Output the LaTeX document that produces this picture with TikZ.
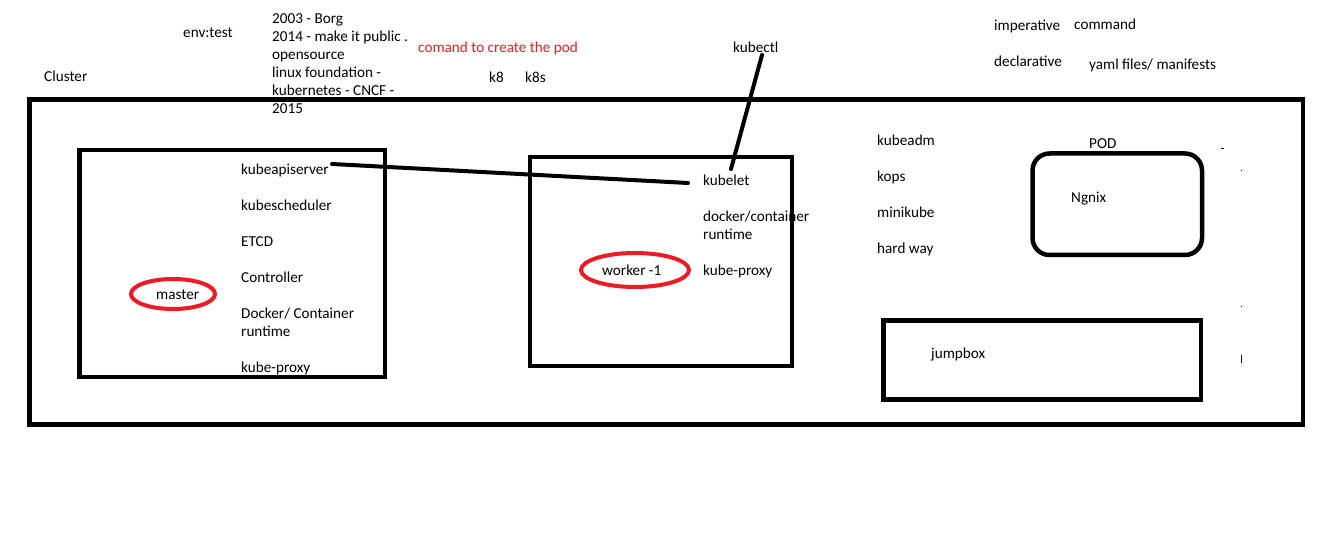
\documentclass[tikz,border=0pt]{standalone}
\usepackage{fontspec}
\setmainfont{Carlito}
\definecolor{paintred}{RGB}{237,28,36}
\begin{document}
\begin{tikzpicture}[x=1pt,y=-1pt,
  lbl/.style={anchor=base west,inner sep=0pt,font=\fontsize{15.2}{18}\selectfont,text=black,align=left},
  box/.style={draw=black,line width=4.5pt},
  ring/.style={draw=paintred,line width=4pt},
  link/.style={draw=black,line width=4pt,line cap=round}]
\useasboundingbox[fill=white] (0,0) rectangle (1338,534);
% boxes
\draw[box] (29.5,99.5) rectangle (1303,424.5);
\draw[box] (79.5,150) rectangle (385,377);
\draw[box] (530,157) rectangle (792,366);
\draw[box,rounded corners=17pt] (1032.5,153.5) rectangle (1202,255);
\draw[box] (883.5,320.5) rectangle (1201,399.5);
% top texts
\node[lbl] (cluster) at (44,82) {Cluster};
\node[lbl] (env) at (183,38) {env:test};
\node[lbl] (history) at (272,114) {2003 - Borg\\2014 - make it public .\\opensource\\linux foundation -\\kubernetes - CNCF -\\2015};
\node[lbl,text=paintred] (comand) at (418,53) {comand to create the pod};
\node[lbl] (k8) at (489,83) {k8};
\node[lbl] (k8s) at (525,83) {k8s};
\node[lbl] (kubectl) at (733,53) {kubectl};
\node[lbl] (imp) at (994,31) {imperative};
\node[lbl] (cmd) at (1074,30) {command};
\node[lbl] (decl) at (994,67) {declarative};
\node[lbl] (yaml) at (1089,70) {yaml files/ manifests};
% master
\node[lbl] (api) at (241,175) {kubeapiserver};
\node[lbl] (sched) at (241,211) {kubescheduler};
\node[lbl] (etcd) at (241,247) {ETCD};
\node[lbl] (ctrl) at (241,283) {Controller};
\node[lbl] (mdock) at (241,337) {Docker/ Container\\runtime};
\node[lbl] (mproxy) at (241,373) {kube-proxy};
\draw[ring] (173,294) ellipse (42 and 15);
\node[lbl] (master) at (156,300) {master};
% worker
\node[lbl] (kubelet) at (703,186) {kubelet};
\node[lbl] (wdock) at (703,240) {docker/container\\runtime};
\node[lbl] (wproxy) at (703,276) {kube-proxy};
\draw[ring] (635,270) ellipse (54 and 17);
\node[lbl] (worker) at (602,276) {worker -1};
% tools
\node[lbl] (kubeadm) at (877,146) {kubeadm};
\node[lbl] (kops) at (877,182) {kops};
\node[lbl] (minikube) at (877,218) {minikube};
\node[lbl] (hardway) at (877,254) {hard way};
\node[lbl] (pod) at (1089,149) {POD};
\node[lbl] (ngnix) at (1071,203) {Ngnix};
\node[lbl] (jumpbox) at (931,359) {jumpbox};
% connectors
\coordinate (apiend) at (332,164);
\coordinate (kubeletend) at (688,183);
\coordinate (ctltop) at (762,55);
\coordinate (ctlbot) at (731,169);
\draw[link] (apiend) -- (kubeletend);
\draw[link] (ctltop) -- (ctlbot);
% stray marks
\draw[black,line width=1pt] (1221,149) -- (1224,149);
\fill[black] (1240.5,170.5) rectangle (1241.5,171.5);
\fill[black] (1240.5,306.5) rectangle (1241.5,307.5);
\draw[black,line width=1pt] (1241,355) -- (1241,363);
\end{tikzpicture}
\end{document}
